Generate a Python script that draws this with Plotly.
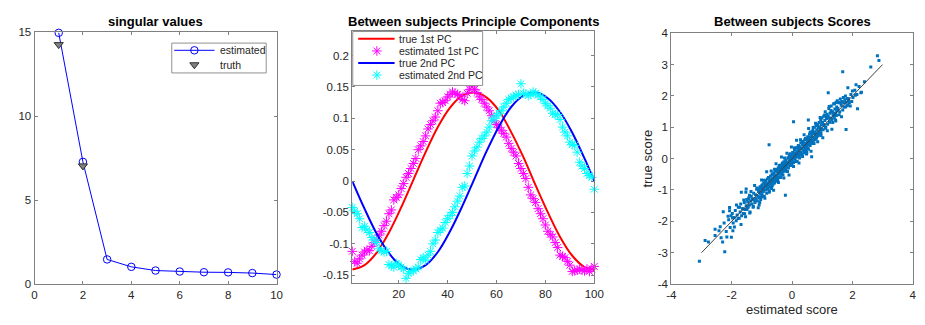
import plotly.graph_objects as go

# ---------------- data ----------------
sv_index = [1, 2, 3, 4, 5, 6, 7, 8, 9, 10]
sv_estimated = [14.95, 7.28, 1.48, 1.04, 0.82, 0.76, 0.72, 0.71, 0.67, 0.58]
sv_truth_index = [1, 2]
sv_truth = [14.25, 7.04]

pc_true_x = [1, 6, 11, 16, 21, 26, 31, 36, 41, 46, 51, 56, 61, 66, 71, 76, 81, 86, 91, 96, 100]
pc1_true = [-0.141, -0.134, -0.114, -0.082, -0.042, 0.002, 0.046, 0.086, 0.117, 0.136, 0.141,
            0.133, 0.112, 0.078, 0.038, -0.007, -0.050, -0.089, -0.119, -0.137, -0.141]
pc2_true = [0.0, -0.044, -0.084, -0.115, -0.135, -0.141, -0.134, -0.113, -0.080, -0.040, 0.004,
            0.048, 0.087, 0.118, 0.136, 0.141, 0.132, 0.110, 0.077, 0.036, 0.0]

pc_est_x = list(range(1, 101))
pc1_est = [-0.112, -0.128, -0.131, -0.124, -0.118, -0.113, -0.110, -0.111, -0.104, -0.098,
           -0.094, -0.086, -0.080, -0.071, -0.064, -0.052, -0.046, -0.030, -0.026, -0.022,
           -0.012, -0.004, 0.006, 0.012, 0.020, 0.028, 0.036, 0.050, 0.056, 0.063,
           0.072, 0.083, 0.090, 0.096, 0.102, 0.112, 0.124, 0.125, 0.128, 0.134,
           0.138, 0.142, 0.140, 0.138, 0.136, 0.130, 0.128, 0.140, 0.146, 0.150,
           0.146, 0.141, 0.134, 0.130, 0.124, 0.118, 0.112, 0.104, 0.096, 0.090,
           0.085, 0.081, 0.076, 0.070, 0.060, 0.052, 0.046, 0.040, 0.028, 0.020,
           0.012, 0.004, -0.010, -0.022, -0.028, -0.034, -0.044, -0.052, -0.060, -0.070,
           -0.080, -0.085, -0.089, -0.098, -0.106, -0.118, -0.120, -0.122, -0.128, -0.134,
           -0.144, -0.143, -0.142, -0.140, -0.142, -0.143, -0.140, -0.144, -0.140, -0.136]
pc2_est = [-0.042, -0.048, -0.052, -0.060, -0.074, -0.072, -0.078, -0.082, -0.090, -0.094,
           -0.098, -0.108, -0.111, -0.113, -0.112, -0.133, -0.135, -0.137, -0.131, -0.134,
           -0.137, -0.140, -0.155, -0.147, -0.144, -0.143, -0.140, -0.137, -0.125, -0.122,
           -0.126, -0.118, -0.112, -0.100, -0.094, -0.082, -0.078, -0.075, -0.066, -0.060,
           -0.055, -0.050, -0.041, -0.032, -0.024, -0.010, -0.008, 0.012, 0.024, 0.040,
           0.048, 0.054, 0.062, 0.068, 0.072, 0.078, 0.086, 0.096, 0.100, 0.104,
           0.108, 0.112, 0.118, 0.124, 0.130, 0.132, 0.134, 0.137, 0.138, 0.155,
           0.140, 0.139, 0.136, 0.138, 0.142, 0.140, 0.137, 0.134, 0.130, 0.124,
           0.120, 0.116, 0.108, 0.106, 0.106, 0.098, 0.086, 0.078, 0.072, 0.062,
           0.058, 0.057, 0.046, 0.030, 0.024, 0.020, 0.012, 0.009, 0.006, -0.013]

score_pairs = [
    # outliers / sparse tails
    (-3.07, -3.27), (-2.88, -2.61), (-2.77, -2.66), (-2.55, -2.25), (-2.30, -2.66), (-2.28, -1.69),
    (-2.23, -2.97), (-2.12, -1.84), (-2.07, -1.56), (-2.01, -2.51), (-1.96, -2.30), (-1.68, -1.07),
    (-1.52, -0.97), (-1.41, -1.17), (-1.09, -1.48), (-0.76, 0.44), (-0.76, -1.07), (-0.22, -1.17),
    (0.05, 1.18), (0.54, 1.23), (0.65, 0.06), (1.20, 2.10), (1.68, 2.77), (1.79, 0.93),
    (1.85, 2.26), (2.12, 2.36), (2.17, 1.59), (2.28, 2.10), (2.61, 2.92), (2.83, 3.28), (2.88, 3.13),
    # core
    (-2.55, -2.45), (-2.42, -2.30), (-2.35, -2.52), (-2.25, -2.05), (-2.18, -2.32), (-2.10, -1.95),
    (-2.05, -2.20), (-2.02, -1.82),
    (-1.98, -1.75), (-1.95, -2.05), (-1.92, -1.88), (-1.88, -1.65), (-1.85, -1.98), (-1.82, -1.80),
    (-1.78, -1.55), (-1.75, -1.90), (-1.72, -1.70), (-1.70, -1.45), (-1.67, -1.82), (-1.64, -1.60),
    (-1.61, -1.75), (-1.58, -1.40), (-1.56, -1.62), (-1.54, -1.85), (-1.52, -1.50), (-1.50, -1.30),
    (-1.49, -1.62), (-1.47, -1.38), (-1.45, -1.55), (-1.43, -1.25), (-1.41, -1.48), (-1.39, -1.70),
    (-1.37, -1.35), (-1.35, -1.20), (-1.33, -1.45), (-1.31, -1.28), (-1.29, -1.55), (-1.27, -1.10),
    (-1.25, -1.32), (-1.23, -1.40), (-1.21, -1.15), (-1.19, -1.28), (-1.17, -0.98), (-1.15, -1.35),
    (-1.13, -1.20), (-1.11, -1.05), (-1.09, -1.25), (-1.07, -1.40), (-1.06, -0.90), (-1.05, -1.12),
    (-1.04, -1.30), (-1.03, -0.95), (-1.02, -1.08), (-1.01, -1.22), (-1.00, -0.85), (-1.00, -1.02),
    (-0.99, -1.15), (-0.98, -0.92), (-0.96, -0.80), (-0.95, -1.05), (-0.94, -0.95), (-0.92, -1.20),
    (-0.91, -0.78), (-0.90, -0.88), (-0.88, -1.00), (-0.87, -0.70), (-0.86, -0.85), (-0.84, -1.10),
    (-0.83, -0.92), (-0.82, -0.65), (-0.80, -0.78), (-0.79, -0.98), (-0.78, -0.85), (-0.76, -0.60),
    (-0.75, -0.72), (-0.74, -0.90), (-0.72, -0.80), (-0.71, -0.55), (-0.70, -0.68), (-0.68, -0.95),
    (-0.67, -0.75), (-0.66, -0.50), (-0.64, -0.62), (-0.63, -0.82), (-0.62, -0.70), (-0.60, -0.45),
    (-0.59, -0.58), (-0.58, -0.78), (-0.56, -0.65), (-0.55, -0.40), (-0.54, -0.52), (-0.53, -0.72),
    (-0.52, -0.60), (-0.50, -0.35),
    (-0.49, -0.55), (-0.48, -0.42), (-0.47, -0.68), (-0.46, -0.30), (-0.45, -0.48), (-0.44, -0.60),
    (-0.43, -0.38), (-0.42, -0.25), (-0.41, -0.45), (-0.40, -0.58), (-0.39, -0.32), (-0.38, -0.42),
    (-0.37, -0.20), (-0.36, -0.50), (-0.35, -0.35), (-0.34, -0.28), (-0.33, -0.45), (-0.32, -0.15),
    (-0.31, -0.30), (-0.30, -0.52), (-0.29, -0.22), (-0.28, -0.35), (-0.27, -0.10), (-0.26, -0.40),
    (-0.25, -0.25), (-0.24, -0.18), (-0.22, -0.32), (-0.21, -0.05), (-0.20, -0.22), (-0.18, -0.40),
    (-0.17, -0.12), (-0.16, -0.25), (-0.14, 0.02), (-0.13, -0.18), (-0.12, -0.30), (-0.10, -0.08),
    (-0.09, 0.10), (-0.08, -0.15), (-0.06, -0.02), (-0.05, -0.22), (-0.03, 0.05), (-0.02, -0.10),
    (0.00, 0.12), (0.01, -0.05), (0.02, 0.20), (0.03, 0.02), (0.05, -0.12), (0.06, 0.15),
    (0.07, 0.05), (0.08, 0.28), (0.10, -0.02), (0.11, 0.18), (0.12, 0.10), (0.13, 0.35),
    (0.15, 0.05), (0.16, 0.22), (0.17, -0.08), (0.19, 0.30), (0.20, 0.15), (0.21, 0.42),
    (0.23, 0.10), (0.24, 0.25), (0.25, 0.02), (0.27, 0.38), (0.28, 0.20), (0.29, 0.50),
    (0.31, 0.15), (0.32, 0.32), (0.33, 0.10), (0.35, 0.45), (0.36, 0.28), (0.37, 0.55),
    (0.39, 0.22), (0.40, 0.38), (0.41, 0.18), (0.42, 0.60), (0.44, 0.30), (0.45, 0.48),
    (0.46, 0.25), (0.47, 0.65), (0.48, 0.40), (0.49, 0.20), (0.50, 0.55), (0.50, 0.35),
    (0.52, 0.70), (0.53, 0.45), (0.54, 0.30), (0.56, 0.62), (0.57, 0.50), (0.58, 0.78),
    (0.60, 0.42), (0.61, 0.68), (0.62, 0.55), (0.64, 0.85), (0.65, 0.48), (0.66, 0.72),
    (0.68, 0.60), (0.69, 0.90), (0.70, 0.52), (0.72, 0.80), (0.73, 0.65), (0.74, 1.00),
    (0.76, 0.60), (0.77, 0.85), (0.78, 0.72), (0.80, 1.05), (0.81, 0.68), (0.82, 0.92),
    (0.84, 0.78), (0.85, 1.10), (0.86, 0.72), (0.88, 0.98), (0.89, 0.85), (0.90, 1.15),
    (0.91, 0.78), (0.92, 1.02), (0.94, 0.90), (0.95, 1.25), (0.96, 0.82), (0.97, 1.08),
    (0.98, 0.95), (0.99, 1.30),
    (1.01, 1.15), (1.03, 0.92), (1.05, 1.35), (1.07, 1.05), (1.09, 1.22), (1.10, 1.50),
    (1.12, 1.00), (1.14, 1.28), (1.16, 1.42), (1.18, 1.10), (1.20, 1.35), (1.22, 1.60),
    (1.24, 1.18), (1.26, 1.45), (1.28, 1.30), (1.30, 1.68), (1.32, 1.25), (1.34, 1.50),
    (1.36, 1.40), (1.38, 1.75), (1.40, 1.30), (1.42, 1.58), (1.44, 1.45), (1.46, 1.80),
    (1.47, 1.38), (1.48, 1.65), (1.49, 1.52), (1.50, 1.85), (1.45, 1.20), (1.35, 1.15),
    (1.52, 1.60), (1.55, 1.78), (1.58, 1.50), (1.60, 1.90), (1.63, 1.70), (1.65, 1.82),
    (1.68, 1.55), (1.70, 1.95), (1.72, 1.78), (1.75, 1.88), (1.78, 1.65), (1.80, 1.80),
    (1.83, 1.92), (1.85, 1.70), (1.88, 1.85), (1.90, 1.78), (1.95, 2.05), (1.98, 1.82),
    (2.02, 1.95), (2.08, 2.18), (2.15, 2.05), (2.22, 2.30), (2.30, 2.12), (2.40, 2.45),
    # wider spread
    (-2.38, -2.17), (-2.16, -2.50), (-2.07, -1.66), (-1.97, -1.89), (-1.91, -2.18), (-1.84, -1.48),
    (-1.79, -1.91), (-1.74, -1.55), (-1.69, -2.10), (-1.63, -1.60), (-1.60, -1.32), (-1.57, -1.76),
    (-1.53, -1.07), (-1.48, -1.54), (-1.44, -1.29), (-1.40, -1.73), (-1.36, -1.05), (-1.32, -1.30),
    (-1.28, -1.52), (-1.24, -0.86), (-1.20, -1.29), (-1.16, -0.94), (-1.12, -1.57), (-1.08, -0.97),
    (-1.05, -1.22), (-1.01, -0.68), (-0.97, -0.99), (-0.94, -0.69), (-0.90, -1.26), (-0.87, -0.80),
    (-0.84, -0.42), (-0.81, -0.95), (-0.78, -0.60), (-0.75, -1.04), (-0.72, -0.68), (-0.69, -0.39),
    (-0.66, -0.87), (-0.63, -0.50), (-0.61, -1.01), (-0.58, -0.34), (-0.55, -0.60), (-0.53, -0.16),
    (-0.50, -0.66), (-0.47, -0.38), (-0.45, -0.76), (-0.42, -0.22), (-0.40, -0.39), (-0.37, -0.60),
    (-0.35, 0.05), (-0.32, -0.40), (-0.30, -0.14), (-0.27, -0.62), (-0.25, 0.02), (-0.22, -0.35),
    (-0.20, -0.14), (-0.17, 0.17), (-0.15, -0.41), (-0.12, 0.02), (-0.10, -0.52), (-0.07, 0.16),
    (-0.05, -0.09), (-0.02, 0.37), (0.00, -0.18), (0.03, 0.13), (0.05, -0.25), (0.08, 0.34),
    (0.10, 0.13), (0.13, -0.09), (0.15, 0.59), (0.18, 0.07), (0.20, 0.37), (0.23, -0.14),
    (0.25, 0.33), (0.28, 0.60), (0.30, 0.15), (0.33, 0.54), (0.35, 0.07), (0.38, 0.43),
    (0.40, 0.76), (0.43, 0.36), (0.45, 0.64), (0.48, 0.15), (0.50, 0.62), (0.53, 0.33),
    (0.55, 0.96), (0.58, 0.57), (0.60, 0.84), (0.63, 0.24), (0.65, 0.80), (0.68, 0.56),
    (0.70, 0.99), (0.73, 0.48), (0.75, 0.81), (0.78, 1.13), (0.80, 0.63), (0.83, 1.05),
    (0.85, 0.54), (0.88, 0.98), (0.90, 0.84), (0.93, 1.31), (0.96, 0.74), (0.99, 1.16),
    (1.02, 0.67), (1.05, 1.09), (1.08, 1.39), (1.11, 0.97), (1.14, 1.34), (1.17, 0.89),
    (1.20, 1.29), (1.23, 1.66), (1.26, 1.16), (1.29, 1.54), (1.32, 0.94), (1.35, 1.48),
    (1.38, 1.35), (1.41, 1.75), (1.44, 1.23), (1.48, 1.55), (1.52, 1.79), (1.56, 1.40),
    (1.60, 1.78), (1.64, 1.34), (1.68, 1.80), (1.72, 1.65), (1.77, 2.00), (1.82, 1.70),
    (1.87, 1.91), (1.93, 1.68), (2.00, 2.16), (2.10, 2.02),
]
score_estimated = [p[0] for p in score_pairs]
score_true = [p[1] for p in score_pairs]
ref_line = [-3, 3]

# ---------------- figure ----------------
W, H = 925, 325
FONT = "Liberation Sans, Arial, Helvetica, sans-serif"
TXT = "#262626"
AX = "#808080"

def px_x(p):
    return p / W

def px_y(p):
    return 1 - p / H

fig = go.Figure()

# panel 1
fig.add_trace(go.Scatter(x=sv_index, y=sv_estimated, mode="lines+markers",
                         line=dict(color="#0000FF", width=1),
                         marker=dict(symbol="circle-open", size=7.5, color="#0000FF", line=dict(width=1)),
                         cliponaxis=False, xaxis="x", yaxis="y", showlegend=False))
fig.add_trace(go.Scatter(x=sv_truth_index, y=sv_truth, mode="markers",
                         marker=dict(symbol="triangle-down", size=8, color="#808080",
                                     line=dict(color="#303030", width=1)),
                         cliponaxis=False, xaxis="x", yaxis="y", showlegend=False))

# panel 2
fig.add_trace(go.Scatter(x=pc_true_x, y=pc1_true, mode="lines", line=dict(color="#FF0000", width=2, shape="spline"),
                         xaxis="x2", yaxis="y2", showlegend=False))
fig.add_trace(go.Scatter(x=pc_est_x, y=pc1_est, mode="markers",
                         marker=dict(symbol="asterisk-open", size=8, color="#FF00FF", line=dict(color="#FF00FF", width=1)),
                         cliponaxis=False, xaxis="x2", yaxis="y2", showlegend=False))
fig.add_trace(go.Scatter(x=pc_true_x, y=pc2_true, mode="lines", line=dict(color="#0000FF", width=2, shape="spline"),
                         xaxis="x2", yaxis="y2", showlegend=False))
fig.add_trace(go.Scatter(x=pc_est_x, y=pc2_est, mode="markers",
                         marker=dict(symbol="asterisk-open", size=8, color="#00FFFF", line=dict(color="#00FFFF", width=1)),
                         cliponaxis=False, xaxis="x2", yaxis="y2", showlegend=False))

# panel 3
fig.add_trace(go.Scatter(x=score_estimated, y=score_true, mode="markers",
                         marker=dict(symbol="square", size=3, color="#0072BD", line=dict(width=0)),
                         xaxis="x3", yaxis="y3", showlegend=False))
fig.add_trace(go.Scatter(x=ref_line, y=ref_line, mode="lines", line=dict(color="#404040", width=1),
                         xaxis="x3", yaxis="y3", showlegend=False))

# legends drawn on a pixel-space overlay axis
def box(x0, y0, x1, y1):
    fig.add_trace(go.Scatter(x=[x0, x1, x1, x0, x0], y=[y0, y0, y1, y1, y0], mode="lines",
                             fill="toself", fillcolor="white", line=dict(color="#909090", width=1),
                             xaxis="x4", yaxis="y4", showlegend=False, hoverinfo="skip"))

box(169.5, 38.5, 265.5, 69.5)
fig.add_trace(go.Scatter(x=[172, 213], y=[46, 46], mode="lines", line=dict(color="#0000FF", width=1),
                         xaxis="x4", yaxis="y4", showlegend=False, hoverinfo="skip"))
fig.add_trace(go.Scatter(x=[192.5], y=[46], mode="markers",
                         marker=dict(symbol="circle-open", size=7.5, color="#0000FF", line=dict(width=1)),
                         xaxis="x4", yaxis="y4", showlegend=False, hoverinfo="skip"))
fig.add_trace(go.Scatter(x=[192.5], y=[61], mode="markers",
                         marker=dict(symbol="triangle-down", size=8, color="#808080", line=dict(color="#303030", width=1)),
                         xaxis="x4", yaxis="y4", showlegend=False, hoverinfo="skip"))

box(353.5, 26.5, 485.5, 82.5)
fig.add_trace(go.Scatter(x=[359, 396], y=[34, 34], mode="lines", line=dict(color="#FF0000", width=2),
                         xaxis="x4", yaxis="y4", showlegend=False, hoverinfo="skip"))
fig.add_trace(go.Scatter(x=[378], y=[46.7], mode="markers",
                         marker=dict(symbol="asterisk-open", size=8, color="#FF00FF", line=dict(color="#FF00FF", width=1)),
                         xaxis="x4", yaxis="y4", showlegend=False, hoverinfo="skip"))
fig.add_trace(go.Scatter(x=[359, 396], y=[59.3, 59.3], mode="lines", line=dict(color="#0000FF", width=2),
                         xaxis="x4", yaxis="y4", showlegend=False, hoverinfo="skip"))
fig.add_trace(go.Scatter(x=[378], y=[71.7], mode="markers",
                         marker=dict(symbol="asterisk-open", size=8, color="#00FFFF", line=dict(color="#00FFFF", width=1)),
                         xaxis="x4", yaxis="y4", showlegend=False, hoverinfo="skip"))

annotations = []
def txt(x, y, s, size=10.5, xanchor="left", bold=False, angle=0):
    annotations.append(dict(x=x, y=y, xref="x4", yref="y4", text=("<b>%s</b>" % s) if bold else s,
                            showarrow=False, xanchor=xanchor, yanchor="middle", textangle=angle,
                            font=dict(family=FONT, size=size, color=TXT if not bold else "#000000")))

txt(216, 46, "estimated")
txt(216, 61, "truth")
txt(398, 34, "true 1st PC")
txt(398, 46.7, "estimated 1st PC")
txt(398, 59.3, "true 2nd PC")
txt(398, 71.7, "estimated 2nd PC")

txt(153, 16, "singular values", size=13, xanchor="center", bold=True)
txt(476, 16, "Between subjects Principle Components", size=13, xanchor="center", bold=True)
txt(800, 16, "Between subjects Scores", size=13, xanchor="center", bold=True)
txt(800, 315, "estimated score", size=13, xanchor="center")
txt(653, 158, "true score", size=13, xanchor="center", angle=-90)

axis_common = dict(showline=True, linecolor=AX, linewidth=1, mirror="ticks", ticks="inside",
                   ticklen=3, tickcolor=AX, showgrid=False, zeroline=False,
                   tickfont=dict(family=FONT, size=11.5, color=TXT))

fig.update_layout(
    width=W, height=H, margin=dict(l=0, r=0, t=0, b=0),
    paper_bgcolor="white", plot_bgcolor="rgba(0,0,0,0)",
    annotations=annotations,
    xaxis=dict(domain=[px_x(30), px_x(276)], range=[0, 10], tickvals=[0, 2, 4, 6, 8, 10], anchor="y", **axis_common),
    yaxis=dict(domain=[px_y(289), px_y(27)], range=[0, 15], tickvals=[0, 5, 10, 15], anchor="x", **axis_common),
    xaxis2=dict(domain=[px_x(353), px_x(599)], range=[1, 100], tickvals=[20, 40, 60, 80, 100], anchor="y2", **axis_common),
    yaxis2=dict(domain=[px_y(288), px_y(26)], range=[-0.163, 0.239],
                tickvals=[-0.15, -0.1, -0.05, 0, 0.05, 0.1, 0.15, 0.2],
                ticktext=["-0.15", "-0.1", "-0.05", "0", "0.05", "0.1", "0.15", "0.2"], anchor="x2", **axis_common),
    xaxis3=dict(domain=[px_x(677.3), px_x(922.7)], range=[-4, 4], tickvals=[-4, -2, 0, 2, 4],
                ticktext=["-4", "-2", "0", "2", "4"], anchor="y3", **axis_common),
    yaxis3=dict(domain=[px_y(288.7), px_y(28.3)], range=[-4, 4], tickvals=list(range(-4, 5)),
                ticktext=["-4", "-3", "-2", "-1", "0", "1", "2", "3", "4"], anchor="x3", **axis_common),
    xaxis4=dict(domain=[0, 1], range=[0, W], visible=False, anchor="y4", fixedrange=True),
    yaxis4=dict(domain=[0, 1], range=[H, 0], visible=False, anchor="x4", fixedrange=True),
)

fig.write_html("out.html")
